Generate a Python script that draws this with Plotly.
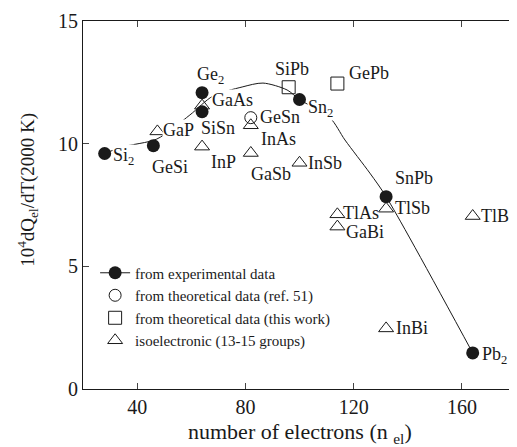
import plotly.graph_objects as go

# ---------------- data ----------------
exp_names = ["Si<sub>2</sub>", "GeSi", "Ge<sub>2</sub>", "SiSn", "Sn<sub>2</sub>", "SnPb", "Pb<sub>2</sub>"]
exp_x = [28, 46, 64, 64, 100, 132, 164]
exp_y = [9.6, 9.92, 12.08, 11.3, 11.8, 7.84, 1.47]

ref51_names = ["GeSn"]
ref51_x = [82]
ref51_y = [11.06]

work_names = ["SiPb", "GePb"]
work_x = [96, 114]
work_y = [12.3, 12.45]

iso_names = ["GaP", "GaAs", "InP", "InAs", "GaSb", "InSb", "TlAs", "GaBi", "TlSb", "TlBi", "InBi"]
iso_x = [47.5, 64, 64, 82, 82, 100, 114, 114, 132, 164, 132]
iso_y = [10.5, 11.55, 9.88, 10.75, 9.62, 9.22, 7.12, 6.62, 7.35, 7.05, 2.47]

fit_x = [28, 35, 47.3, 59.5, 68, 78.8, 86.5, 95.4, 100, 111.3, 116.8, 126, 132, 164]
fit_y = [9.6, 9.88, 10.19, 11.17, 11.94, 12.31, 12.47, 12.19, 11.8, 11.05, 10.15, 8.8, 7.84, 1.47]

x_ticks = [40, 80, 120, 160]
y_ticks = [0, 5, 10, 15]

# ---------------- label placement (pixel offsets) ----------------
# name: (xshift, yshift, xanchor, white background)
label_pos = {
    "Si<sub>2</sub>": (7, -3, "left", True),
    "GeSi": (17, -21, "center", False),
    "Ge<sub>2</sub>": (8, 17, "center", False),
    "SiSn": (16, -16, "center", False),
    "Sn<sub>2</sub>": (7, -9, "left", True),
    "SnPb": (8, 19, "left", False),
    "Pb<sub>2</sub>": (8, -3, "left", False),
    "GeSn": (8, 1, "left", False),
    "SiPb": (3, 18, "center", False),
    "GePb": (11, 11, "left", False),
    "GaP": (5, 1, "left", True),
    "GaAs": (9, 6, "left", True),
    "InP": (8, -15, "left", False),
    "InAs": (9, -14, "left", False),
    "GaSb": (20, -21, "center", False),
    "InSb": (7, 0, "left", False),
    "TlAs": (5, 1, "left", False),
    "GaBi": (8, -5, "left", False),
    "TlSb": (8, 1, "left", False),
    "TlBi": (7, 0, "left", False),
    "InBi": (9, 0, "left", False),
}

SERIF = "Liberation Serif, Times New Roman, serif"
INK = "#1a1a1a"

fig = go.Figure()

fig.add_trace(go.Scatter(x=fit_x, y=fit_y, mode="lines", line=dict(color=INK, width=1, shape="spline", smoothing=0.8),
                         showlegend=False, hoverinfo="skip"))
fig.add_trace(go.Scatter(x=exp_x, y=exp_y, mode="markers", showlegend=False,
                         marker=dict(symbol="circle", size=13, color=INK)))
# legend entry for the experimental series (line + filled circle)
fig.add_trace(go.Scatter(x=[None], y=[None], mode="lines+markers", name="from experimental data",
                         line=dict(color=INK, width=1), marker=dict(symbol="circle", size=13, color=INK)))
fig.add_trace(go.Scatter(x=ref51_x, y=ref51_y, mode="markers", name="from theoretical data (ref. 51)",
                         marker=dict(symbol="circle-open", size=12, color=INK, line=dict(width=1))))
fig.add_trace(go.Scatter(x=work_x, y=work_y, mode="markers", name="from theoretical data (this work)",
                         marker=dict(symbol="square-open", size=13, color=INK, line=dict(width=1))))
fig.add_trace(go.Scatter(x=iso_x, y=iso_y, mode="markers", name="isoelectronic (13-15 groups)",
                         marker=dict(symbol="triangle-up-open", size=13, color=INK, line=dict(width=1))))

annotations = []
for names, xs, ys in [(exp_names, exp_x, exp_y), (ref51_names, ref51_x, ref51_y),
                      (work_names, work_x, work_y), (iso_names, iso_x, iso_y)]:
    for n, xv, yv in zip(names, xs, ys):
        dx, dy, anc, bg = label_pos[n]
        annotations.append(dict(x=xv, y=yv, xref="x", yref="y", text=n, showarrow=False,
                                xanchor=anc, yanchor="middle", xshift=dx, yshift=dy,
                                font=dict(family=SERIF, size=18, color=INK),
                                bgcolor="white" if bg else "rgba(0,0,0,0)", borderpad=0))

annotations.append(dict(x=-0.128, y=0.54, xref="paper", yref="paper", textangle=-90,
                        text="10<sup>4</sup>dQ<sub>el</sub>/dT(2000 K)", showarrow=False,
                        xanchor="center", yanchor="middle",
                        font=dict(family=SERIF, size=19, color=INK)))
annotations.append(dict(x=0.5, y=-0.12, xref="paper", yref="paper",
                        text="number of electrons (n <sub>el</sub>)", showarrow=False,
                        xanchor="center", yanchor="middle",
                        font=dict(family=SERIF, size=22, color=INK)))

# the page body adds an 8 px margin, so the figure is drawn 8 px smaller
fig.update_layout(
    width=509, height=439,
    margin=dict(l=75, r=1, t=13, b=58),
    paper_bgcolor="white", plot_bgcolor="white",
    font=dict(family=SERIF, color=INK),
    annotations=annotations,
    legend=dict(x=0.028, y=0.36, xanchor="left", yanchor="top", bgcolor="rgba(0,0,0,0)",
                font=dict(family=SERIF, size=15, color=INK), tracegroupgap=0),
    xaxis=dict(range=[20, 180], tickvals=x_ticks, ticks="inside", ticklen=6, mirror="ticks",
               showline=True, linecolor=INK, linewidth=1, showgrid=False, zeroline=False,
               tickfont=dict(family=SERIF, size=20, color=INK)),
    yaxis=dict(range=[0, 15], tickvals=y_ticks, ticks="inside", ticklen=6, mirror="ticks",
               showline=True, linecolor=INK, linewidth=1, showgrid=False, zeroline=False,
               tickfont=dict(family=SERIF, size=20, color=INK)),
)

fig.write_html("out.html")
